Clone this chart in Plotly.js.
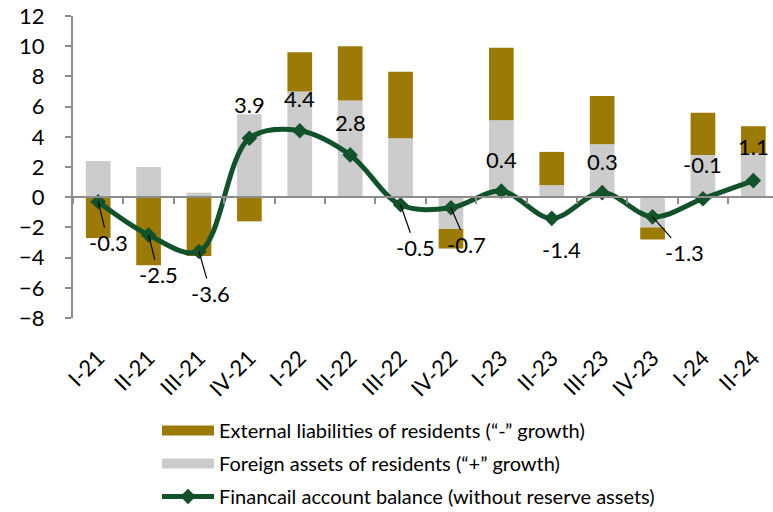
<!DOCTYPE html>
<html>
<head>
<meta charset="utf-8">
<script src="https://cdn.plot.ly/plotly-3.0.1.min.js"></script>
<style>html,body{margin:0;padding:0;background:#fff;}#chart{width:773px;height:512px;}</style>
</head>
<body>
<div id="chart"></div>
<script>
// ---- data ----
var categories = ["I-21","II-21","III-21","IV-21","I-22","II-22","III-22","IV-22","I-23","II-23","III-23","IV-23","I-24","II-24"];
var foreignAssets = [2.4, 2.0, 0.3, 5.5, 7.0, 6.4, 3.9, -2.1, 5.1, 0.8, 3.5, -2.0, 2.8, 2.9];
var externalLiabilities = [-2.7, -4.5, -3.9, -1.6, 2.6, 3.6, 4.4, -1.3, 4.8, 2.2, 3.2, -0.8, 2.8, 1.8];
var accountBalance = [-0.3, -2.5, -3.6, 3.9, 4.4, 2.8, -0.5, -0.7, 0.4, -1.4, 0.3, -1.3, -0.1, 1.1];
var seriesNames = [
  "External liabilities of residents (\u201c-\u201d growth)",
  "Foreign assets of residents (\u201c+\u201d growth)",
  "Financail account balance (without reserve assets)"
];
var yTicks = [-8, -6, -4, -2, 0, 2, 4, 6, 8, 10, 12];

// ---- label placement (pixel offsets from each point) ----
var labelDx = [10, 10, 12, 0, 0, 0, 15, 16, 0, 10, 0, 32, 0, 0];
var labelDy = [41, 40, 42, -34, -32, -32, 43, 37, -32, 31, -31, 36, -34, -34];
var labelLeader = [true, true, true, false, false, false, true, true, false, false, false, true, false, false];

// ---- styles ----
var GOLD = "#9C7A06";
var GREY = "#CCCCCC";
var GREEN = "#12522B";
var AXIS = "#8C8C8C";
var FONT = "Lato, 'Open Sans', sans-serif";

var traces = [
  {type: "bar", x: categories, y: foreignAssets, name: seriesNames[1],
   marker: {color: GREY, line: {width: 0}}, showlegend: false, legendgroup: "g2", hoverinfo: "y"},
  {type: "bar", x: categories, y: externalLiabilities, name: seriesNames[0],
   marker: {color: GOLD, line: {width: 0}}, showlegend: false, legendgroup: "g1", hoverinfo: "y"},
  {type: "scatter", mode: "lines+markers", x: categories, y: accountBalance, xaxis: "x2", yaxis: "y",
   name: seriesNames[2], line: {color: GREEN, width: 5, shape: "spline", smoothing: 1},
   marker: {symbol: "diamond", size: 12, color: GREEN}, legendgroup: "g3", legendrank: 3},
  // legend swatches
  {type: "scatter", mode: "lines", x: [null], y: [null], name: seriesNames[0],
   line: {color: GOLD, width: 12}, legendgroup: "g1", legendrank: 1, hoverinfo: "skip"},
  {type: "scatter", mode: "lines", x: [null], y: [null], name: seriesNames[1],
   line: {color: GREY, width: 12}, legendgroup: "g2", legendrank: 2, hoverinfo: "skip"}
];

var annotations = accountBalance.map(function (v, i) {
  var a = {
    x: categories[i], y: v, xref: "x", yref: "y",
    text: v.toFixed(1),
    font: {family: FONT, size: 22, color: "#000"}
  };
  if (labelLeader[i]) {
    a.showarrow = true; a.arrowhead = 0; a.arrowwidth = 1.2; a.arrowcolor = "#000";
    a.ax = labelDx[i]; a.ay = labelDy[i]; a.standoff = 0;
  } else {
    a.showarrow = false; a.xshift = labelDx[i]; a.yshift = -labelDy[i];
  }
  return a;
});

var layout = {
  width: 773, height: 512,
  margin: {l: 73, r: 0, t: 16, b: 194, pad: 0, autoexpand: false},
  paper_bgcolor: "#fff", plot_bgcolor: "rgba(0,0,0,0)",
  font: {family: FONT, size: 22, color: "#000"},
  barmode: "relative", bargap: 0.51,
  xaxis: {
    type: "category", categoryorder: "array", categoryarray: categories,
    range: [-0.5, 13.39], showline: false, showgrid: false, zeroline: false,
    ticks: "", tickangle: -45, ticklabelstandoff: 22, automargin: false,
    tickfont: {family: FONT, size: 22, color: "#000"}, fixedrange: true
  },
  xaxis2: {
    type: "category", matches: "x", overlaying: "x", anchor: "free", position: 0.4,
    showline: true, linecolor: AXIS, linewidth: 2, showgrid: false, zeroline: false,
    ticks: "outside", tickson: "boundaries", ticklen: 6, tickwidth: 2, tickcolor: AXIS,
    showticklabels: false
  },
  yaxis: {
    range: [-8, 12], tickvals: yTicks, showgrid: false, zeroline: false,
    showline: true, linecolor: AXIS, linewidth: 2, automargin: false,
    ticks: "outside", ticklen: 6, tickwidth: 2, tickcolor: AXIS, ticklabelstandoff: 16,
    tickfont: {family: FONT, size: 22, color: "#000"}, fixedrange: true
  },
  legend: {
    x: 0.12, y: -0.308, xanchor: "left", yanchor: "top", orientation: "v",
    itemwidth: 52, tracegroupgap: 4, traceorder: "grouped",
    font: {family: FONT, size: 20, color: "#000"}, bgcolor: "rgba(0,0,0,0)"
  },
  annotations: annotations,
  showlegend: true
};

Plotly.newPlot("chart", traces, layout, {displayModeBar: false, staticPlot: true});
</script>
</body>
</html>
